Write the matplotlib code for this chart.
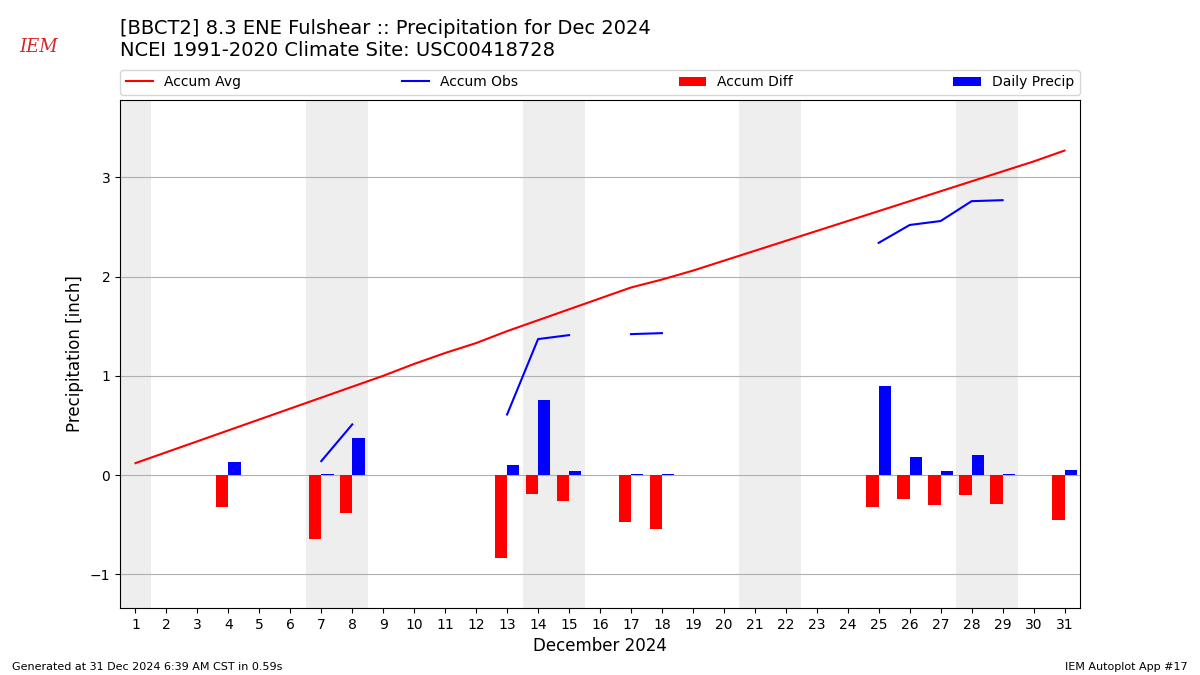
import matplotlib
matplotlib.use("Agg")
import matplotlib.pyplot as plt
import numpy as np

days = np.arange(1, 32)

# accumulated climatology (inch)
accum_avg = [0.12, 0.23, 0.34, 0.45, 0.56, 0.67, 0.78, 0.89, 1.00, 1.12,
             1.23, 1.33, 1.45, 1.56, 1.67, 1.78, 1.89, 1.97, 2.06, 2.16,
             2.26, 2.36, 2.46, 2.56, 2.66, 2.76, 2.86, 2.96, 3.06, 3.16, 3.27]

# accumulated observed (nan = missing)
nan = np.nan
accum_obs = [nan, nan, nan, 0.13, nan, nan, 0.14, 0.51, nan, nan,
             nan, nan, 0.61, 1.37, 1.41, nan, 1.42, 1.43, nan, nan,
             nan, nan, nan, nan, 2.34, 2.52, 2.56, 2.76, 2.77, nan, 2.82]

daily_precip = [0, 0, 0, 0.13, 0, 0, 0.01, 0.37, 0, 0,
                0, 0, 0.10, 0.76, 0.04, 0, 0.01, 0.01, 0, 0,
                0, 0, 0, 0, 0.90, 0.18, 0.04, 0.20, 0.01, 0, 0.05]

weekend_days = [1, 7, 8, 14, 15, 21, 22, 28, 29]

accum_avg = np.array(accum_avg)
accum_obs = np.array(accum_obs)
accum_diff = accum_obs - accum_avg  # nan where no obs

fig = plt.figure(figsize=(12, 6.75), dpi=100)
ax = fig.add_axes([0.1, 0.0993, 0.8, 0.7526])

for d in weekend_days:
    ax.axvspan(d - 0.5, d + 0.5, color="#eeeeee", zorder=0, lw=0)

ax.plot(days, accum_avg, color="r", lw=1.5, label="Accum Avg", zorder=3)
ax.plot(days, accum_obs, color="b", lw=1.5, label="Accum Obs", zorder=3)
ax.bar(days, np.nan_to_num(accum_diff), width=-0.4, align="edge",
       color="r", label="Accum Diff", zorder=2)
ax.bar(days, daily_precip, width=0.4, align="edge", color="b",
       label="Daily Precip", zorder=2)

ax.set_xlim(0.5, 31.5)
ax.set_ylim(-1.34, 3.78)
ax.set_xticks(days)
ax.set_yticks([-1, 0, 1, 2, 3])
ax.grid(True, axis="y", color="#b0b0b0", zorder=1)
ax.set_axisbelow(True)
ax.set_xlabel("December 2024", fontsize=12)
ax.set_ylabel("Precipitation [inch]", fontsize=12)

ax.legend(loc="lower left", bbox_to_anchor=(0, 1.01, 1, 0.05), ncol=4,
          mode="expand", borderaxespad=0, fontsize=10)

fig.text(0.1, 0.958, "[BBCT2] 8.3 ENE Fulshear :: Precipitation for Dec 2024",
         fontsize=14, va="center")
fig.text(0.1, 0.925, "NCEI 1991-2020 Climate Site: USC00418728",
         fontsize=14, va="center")

# logo stand-in
fig.text(0.032, 0.93, "IEM", color="#d62728", fontsize=13, family="serif",
         style="italic", ha="center", va="center")

fig.text(0.01, 0.007, "Generated at 31 Dec 2024 6:39 AM CST in 0.59s", fontsize=8)
fig.text(0.99, 0.007, "IEM Autoplot App #17", fontsize=8, ha="right")

fig.savefig("out.png", dpi=100)
